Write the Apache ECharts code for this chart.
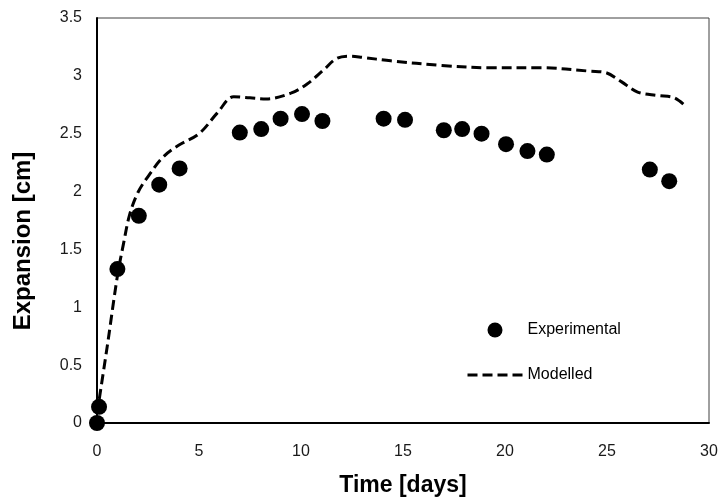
<!DOCTYPE html>
<html>
<head>
<meta charset="utf-8">
<script src="https://cdn.jsdelivr.net/npm/echarts@6/dist/echarts.min.js"></script>
<style>
html,body{margin:0;padding:0;background:#fff;}
#chart{width:718px;height:497px;}
</style>
</head>
<body>
<div id="chart"></div>
<script>
// Experimental measurements
var expDays = [0, 0.1, 1.0, 2.05, 3.05, 4.05, 7.0, 8.05, 9.0, 10.05, 11.05, 14.05, 15.1, 17.0, 17.9, 18.85, 20.05, 21.1, 22.05, 27.1, 28.05];
var expValues = [0, 0.14, 1.33, 1.79, 2.06, 2.20, 2.51, 2.54, 2.63, 2.67, 2.61, 2.63, 2.62, 2.53, 2.54, 2.50, 2.41, 2.35, 2.32, 2.19, 2.09];
// Modelled curve
var modDays = [0, 0.5, 1.0, 1.3, 1.6, 2.0, 2.5, 3.25, 4.0, 5.0, 5.9, 6.7, 7.5, 8.3, 9.5, 10.3, 11.1, 11.75, 12.4, 13.0, 14.4, 16.9, 19.3, 21.8, 24.2, 24.9, 25.7, 26.5, 27.5, 28.3, 28.9];
var modValues = [0.08, 0.66, 1.27, 1.55, 1.80, 1.99, 2.13, 2.30, 2.40, 2.50, 2.68, 2.82, 2.81, 2.80, 2.85, 2.93, 3.05, 3.15, 3.17, 3.16, 3.13, 3.09, 3.07, 3.07, 3.04, 3.03, 2.95, 2.86, 2.83, 2.81, 2.73];
var xTicks = {min: 0, max: 30, interval: 5};
var yTicks = {min: 0, max: 3.5, interval: 0.5};
var seriesNames = ['Experimental', 'Modelled'];
var xTitle = 'Time [days]';
var yTitle = 'Expansion [cm]';

function zip(a, b) { return a.map(function (v, i) { return [v, b[i]]; }); }

var chart = echarts.init(document.getElementById('chart'), null, {renderer: 'canvas'});
var font = '"Liberation Sans", Arial, sans-serif';
chart.setOption({
  animation: false,
  backgroundColor: '#fff',
  textStyle: {fontFamily: font},
  grid: {left: 97, top: 18, right: 9, bottom: 74, show: true, borderColor: '#404040', borderWidth: 1, outerBoundsMode: 'none', containLabel: false},
  xAxis: {
    type: 'value', min: xTicks.min, max: xTicks.max, interval: xTicks.interval,
    axisLine: {show: true, onZero: false, lineStyle: {color: '#000', width: 2}},
    axisTick: {show: false}, splitLine: {show: false},
    axisLabel: {fontSize: 16, color: '#1a1a1a', margin: 21, fontFamily: font},
    name: xTitle, nameLocation: 'middle', nameGap: 51,
    nameTextStyle: {fontSize: 23, fontWeight: 'bold', color: '#000', fontFamily: font}
  },
  yAxis: {
    type: 'value', min: yTicks.min, max: yTicks.max, interval: yTicks.interval,
    axisLine: {show: true, onZero: false, lineStyle: {color: '#000', width: 2}},
    axisTick: {show: false}, splitLine: {show: false},
    axisLabel: {fontSize: 16, color: '#1a1a1a', margin: 15, fontFamily: font}
  },
  graphic: [{
    type: 'text', x: 23, y: 241, rotation: Math.PI / 2,
    style: {text: yTitle, fontSize: 24, fontWeight: 'bold', fill: '#000', fontFamily: font, align: 'center', verticalAlign: 'middle'}
  }],
  legend: {
    orient: 'vertical', left: 461, top: 317, itemWidth: 55, itemHeight: 15, itemGap: 29,
    textStyle: {fontSize: 16, color: '#000', fontFamily: font},
    data: [
      {name: seriesNames[0]},
      {name: seriesNames[1], itemStyle: {opacity: 0}, lineStyle: {width: 3, type: [10, 5], color: '#000'}}
    ]
  },
  series: [{
    name: seriesNames[0], type: 'scatter', data: zip(expDays, expValues),
    symbol: 'circle', symbolSize: 16, clip: false, z: 3,
    itemStyle: {color: '#000', opacity: 1}
  }, {
    name: seriesNames[1], type: 'line', data: zip(modDays, modValues),
    symbol: 'none', showSymbol: false, smooth: 0.35, clip: false, z: 2,
    itemStyle: {color: '#000'},
    lineStyle: {color: '#000', width: 3, type: [10, 5]}
  }]
});
</script>
</body>
</html>
